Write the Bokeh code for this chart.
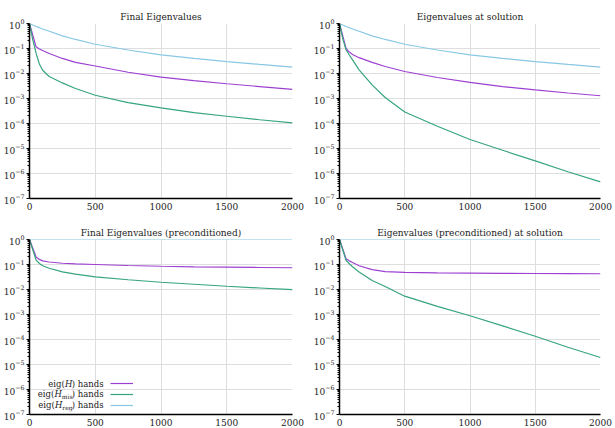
from bokeh.plotting import figure
from bokeh.layouts import column, row
from bokeh.models import FixedTicker, Label, Legend, LegendItem, Range1d
from bokeh.embed import file_html
from bokeh.resources import INLINE

# ---- data -------------------------------------------------------------
iters = [0, 25, 50, 75, 100, 150, 250, 350, 500, 750, 1000, 1250, 1500, 1750, 2000]

# eigenvalues of the regularisation Hessian (identical in both unpreconditioned panels)
reg_eigs = [1.0, 0.87, 0.76, 0.68, 0.60, 0.49, 0.32, 0.23, 0.148, 0.087,
            0.056, 0.040, 0.030, 0.023, 0.018]

final_H = [1.0, 0.34, 0.117, 0.095, 0.083, 0.063, 0.040, 0.028, 0.020, 0.0112,
           0.0072, 0.0052, 0.0039, 0.0030, 0.0023]
final_mis = [1.0, 0.22, 0.065, 0.024, 0.0135, 0.0076, 0.0042, 0.0025, 0.00135,
             0.00068, 0.00042, 0.00027, 0.000195, 0.000141, 0.000105]

sol_H = [1.0, 0.32, 0.10, 0.072, 0.058, 0.043, 0.028, 0.019, 0.012, 0.0069,
         0.0044, 0.0030, 0.0022, 0.00166, 0.00129]
sol_mis = [1.0, 0.25, 0.089, 0.055, 0.035, 0.014, 0.0035, 0.00110, 0.00029,
           7.8e-5, 2.3e-5, 8.5e-6, 3.2e-6, 1.17e-6, 4.6e-7]

prec_reg = [1.0] * len(iters)
prec_final_H = [1.0, 0.45, 0.20, 0.16, 0.14, 0.126, 0.112, 0.105, 0.100, 0.091,
                0.085, 0.081, 0.078, 0.076, 0.074]
prec_final_mis = [1.0, 0.39, 0.15, 0.11, 0.089, 0.071, 0.051, 0.041, 0.032,
                  0.0245, 0.0195, 0.0162, 0.0135, 0.0115, 0.0098]

prec_sol_H = [1.0, 0.42, 0.17, 0.14, 0.12, 0.089, 0.062, 0.052, 0.048, 0.046,
              0.045, 0.044, 0.0437, 0.043, 0.0427]
prec_sol_mis = [1.0, 0.38, 0.148, 0.107, 0.081, 0.050, 0.023, 0.0132, 0.0054,
                0.0021, 0.00089, 0.00035, 0.000135, 4.9e-5, 1.9e-5]

titles = ["Final Eigenvalues", "Eigenvalues at solution",
          "Final Eigenvalues (preconditioned)", "Eigenvalues (preconditioned) at solution"]

x_ticks = [0, 500, 1000, 1500, 2000]
y_ticks = [1e-7, 1e-6, 1e-5, 1e-4, 1e-3, 1e-2, 1e-1, 1e0]

# ---- style ------------------------------------------------------------
FONT = "DejaVu Serif"
TEXT = "#222222"
GRID = "#dedede"
C_H = "#9d40d2"
C_MIS = "#36a57d"
C_REG = "#88c8e4"

y_minor = [m * t for t in y_ticks[:-1] for m in range(2, 10)]


def panel(title, H, mis, reg, width, height, left, right, top, bottom):
    p = figure(width=width, height=height, x_range=Range1d(0, 2000),
               y_range=Range1d(1e-7, 1.0), y_axis_type="log",
               output_backend="svg", toolbar_location=None,
               min_border_left=left, min_border_right=right,
               min_border_top=top, min_border_bottom=bottom)
    p.outline_line_color = None
    p.title.text = title
    p.title.text_font = FONT
    p.title.text_font_size = "9px"
    p.title.text_font_style = "normal"
    p.title.text_color = TEXT
    p.title.align = "center"
    p.title.vertical_align = "middle"
    p.title.standoff = 2

    p.xaxis.ticker = FixedTicker(ticks=x_ticks)
    p.yaxis.ticker = FixedTicker(ticks=y_ticks, minor_ticks=y_minor)
    for ax in (p.xaxis[0], p.yaxis[0]):
        ax.axis_line_color = "black"
        ax.axis_line_width = 1.5
        ax.major_tick_in = 0
        ax.minor_tick_in = 0
        ax.major_tick_line_color = "black"
        ax.minor_tick_line_color = "black"
        ax.major_label_text_font = FONT
        ax.major_label_text_font_size = "9px"
        ax.major_label_text_color = TEXT
    p.xaxis.major_tick_out = 0
    p.xaxis.minor_tick_out = 0
    p.xaxis.major_label_standoff = 4
    p.yaxis.major_tick_out = 3
    p.yaxis.minor_tick_out = 2
    p.yaxis.major_label_standoff = 2

    p.xgrid.grid_line_color = GRID
    p.ygrid.grid_line_color = GRID

    r_h = p.line(iters, H, line_color=C_H, line_width=1.2)
    r_m = p.line(iters, mis, line_color=C_MIS, line_width=1.2)
    r_r = p.line(iters, reg, line_color=C_REG, line_width=1.2)
    return p, (r_h, r_m, r_r)


p1, _ = panel(titles[0], final_H, final_mis, reg_eigs, 310, 220, 29, 18, 23, 22)
p2, _ = panel(titles[1], sol_H, sol_mis, reg_eigs, 305, 220, 28, 15, 23, 22)
p3, rends = panel(titles[2], prec_final_H, prec_final_mis, prec_reg, 310, 208, 29, 18, 19, 14)
p4, _ = panel(titles[3], prec_sol_H, prec_sol_mis, prec_reg, 305, 208, 28, 15, 19, 14)

# ---- legend: line samples from a Bokeh legend, labels drawn as text to their left
legend = Legend(items=[LegendItem(label=" ", renderers=[r]) for r in rends],
                location=(81, 4), orientation="vertical",
                glyph_width=23, glyph_height=10, label_height=10, label_width=0,
                label_standoff=0, label_text_font_size="6px", spacing=1,
                padding=0, margin=0, border_line_color=None,
                background_fill_alpha=0)
p3.add_layout(legend)

legend_rows = [("", 10 ** -5.76), ("mis", 10 ** -6.18), ("reg", 10 ** -6.6)]
# approximate advance widths (px) of the legend pieces at the sizes used
W_TAIL = 31.0   # ") hands"
W_H = 7.8       # italic "H"
SUB_W = {"": 0.0, "mis": 10.5, "reg": 10.0}
x_right = 563   # right edge of the labels, in iteration units

for sub, yv in legend_rows:
    common = dict(x=x_right, y=yv, text_baseline="middle", text_align="right",
                  text_font=FONT, text_color=TEXT)
    off = 0.0
    p3.add_layout(Label(text=") hands", x_offset=off, text_font_size="8.5px", **common))
    off -= W_TAIL
    if sub:
        p3.add_layout(Label(text=sub, x_offset=off, y_offset=-2.5,
                            text_font_size="6px", **common))
        off -= SUB_W[sub]
    p3.add_layout(Label(text="H", x_offset=off, text_font_size="8.5px",
                        text_font_style="italic", **common))
    off -= W_H
    p3.add_layout(Label(text="eig(", x_offset=off, text_font_size="8.5px", **common))

layout = column(row(p1, p2), row(p3, p4))
open("out.html", "w").write(file_html(layout, INLINE))
